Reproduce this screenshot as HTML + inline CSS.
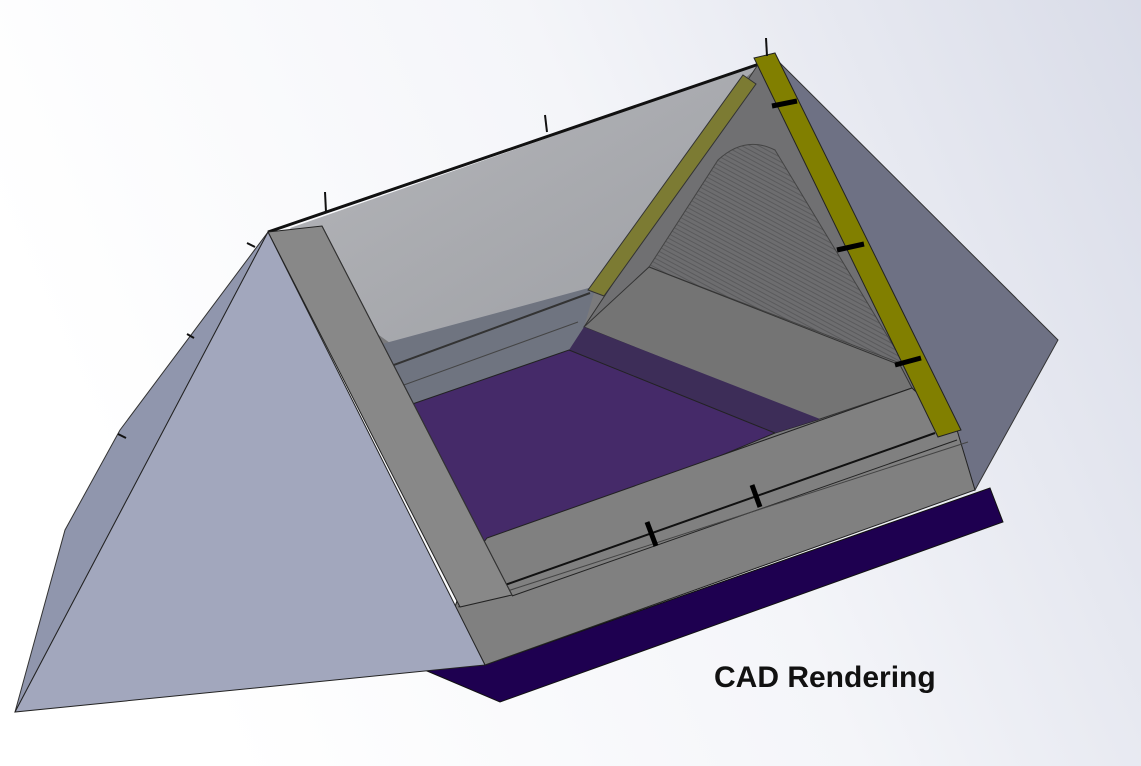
<!DOCTYPE html>
<html><head><meta charset="utf-8"><style>
html,body{margin:0;padding:0;width:1141px;height:766px;overflow:hidden;background:#fff}
</style></head><body>
<svg width="1141" height="766" viewBox="0 0 1141 766" xmlns="http://www.w3.org/2000/svg">
<defs>
<linearGradient id="bg" x1="0" y1="0.3" x2="1" y2="0">
<stop offset="0" stop-color="#ffffff"/><stop offset="0.5" stop-color="#f4f5f9"/><stop offset="1" stop-color="#d9dce8"/>
</linearGradient>
<linearGradient id="bw" x1="0" y1="0" x2="1" y2="1">
<stop offset="0" stop-color="#b6b7bb"/><stop offset="1" stop-color="#9c9ea3"/>
</linearGradient>
<pattern id="st" width="4" height="4" patternUnits="userSpaceOnUse" patternTransform="rotate(28)">
<rect width="4" height="4" fill="#6d6d6f"/><rect width="4" height="1" fill="#5a5a5c"/>
</pattern>
</defs>
<rect width="1141" height="766" fill="url(#bg)"/>
<!-- right outer face -->
<polygon points="772,55 1058,340 975,490 955,432" fill="#6e7184" stroke="#333" stroke-width="1"/>
<!-- purple base -->
<polygon points="420,668 500,702 1003,522 990,488 485,665" fill="#1e0050" stroke="#111" stroke-width="1"/>
<!-- backing -->
<polygon points="300,228 765,62 960,432 500,600" fill="#7a7a7c"/>
<!-- back wall -->
<polygon points="290,228 765,62 745,78 590,290 390,343 330,300" fill="url(#bw)"/>
<line x1="268" y1="232" x2="765" y2="62" stroke="#111" stroke-width="3"/>
<!-- ledge -->
<polygon points="360,350 596,286 584,327 569,350 420,402 380,410" fill="#6f7480"/>
<line x1="380" y1="370" x2="590" y2="293" stroke="#333" stroke-width="2"/>
<line x1="390" y1="390" x2="578" y2="322" stroke="#444" stroke-width="1"/>
<!-- inner triangle -->
<polygon points="757,66 770,62 945,432 912,388 817,420 584,327" fill="#707072" stroke="#333" stroke-width="1"/>
<path d="M649,267 L718,160 Q745,135 775,150 L905,365 Z" fill="url(#st)" stroke="#444" stroke-width="1"/>
<polygon points="584,327 649,267 900,365 935,432 912,388 817,420" fill="#747474" stroke="#333" stroke-width="1"/>
<!-- floor -->
<polygon points="395,410 569,350 817,420 775,433 470,560 440,540" fill="#452a69" stroke="#222" stroke-width="1"/>
<polygon points="569,350 584,327 820,419 775,433" fill="#3d2d58"/>
<line x1="569" y1="350" x2="775" y2="433" stroke="#222"/>
<!-- front frame -->
<polygon points="487,538 912,388 957,430 975,490 485,665 455,607 470,560" fill="#808080" stroke="#222" stroke-width="1"/>
<line x1="505" y1="585" x2="935" y2="433" stroke="#111" stroke-width="2"/>
<line x1="512" y1="596" x2="957" y2="440" stroke="#222" stroke-width="1"/>
<line x1="458" y1="607" x2="968" y2="442" stroke="#444" stroke-width="1"/>
<line x1="647" y1="522" x2="656" y2="546" stroke="#000" stroke-width="5"/>
<line x1="752" y1="485" x2="760" y2="507" stroke="#000" stroke-width="5"/>
<!-- left vertical bar -->
<polygon points="268,232 322,226 512,595 460,607" fill="#888888" stroke="#222" stroke-width="1"/>
<line x1="322" y1="226" x2="512" y2="595" stroke="#333"/>
<!-- left back slope -->
<polygon points="268,232 15,712 65,530 120,430" fill="#9096ad" stroke="#333" stroke-width="1"/>
<!-- left triangle face -->
<polygon points="268,232 15,712 485,665" fill="#a2a7bd" stroke="#222" stroke-width="1"/>
<!-- olive bar -->
<polygon points="743,75 756,84 604,296 588,290" fill="#7c7b33" stroke="#333" stroke-width="1"/>
<!-- yellow bar -->
<polygon points="754,58 775,53 961,430 938,437" fill="#817f00" stroke="#222" stroke-width="1"/>
<g stroke="#000" stroke-width="5">
<line x1="772" y1="106" x2="797" y2="101"/><line x1="837" y1="250" x2="864" y2="244"/><line x1="895" y1="365" x2="921" y2="358"/>
</g>
<g stroke="#111" stroke-width="2">
<line x1="766" y1="38" x2="767" y2="56"/><line x1="545" y1="115" x2="547" y2="132"/><line x1="325" y1="192" x2="326" y2="212"/>
<line x1="247" y1="243" x2="255" y2="247"/><line x1="187" y1="334" x2="194" y2="338"/><line x1="118" y1="434" x2="126" y2="438"/>
</g>
<text x="714" y="687" font-family="Liberation Sans, sans-serif" font-weight="bold" font-size="30" fill="#111">CAD Rendering</text>
</svg>
</body></html>
